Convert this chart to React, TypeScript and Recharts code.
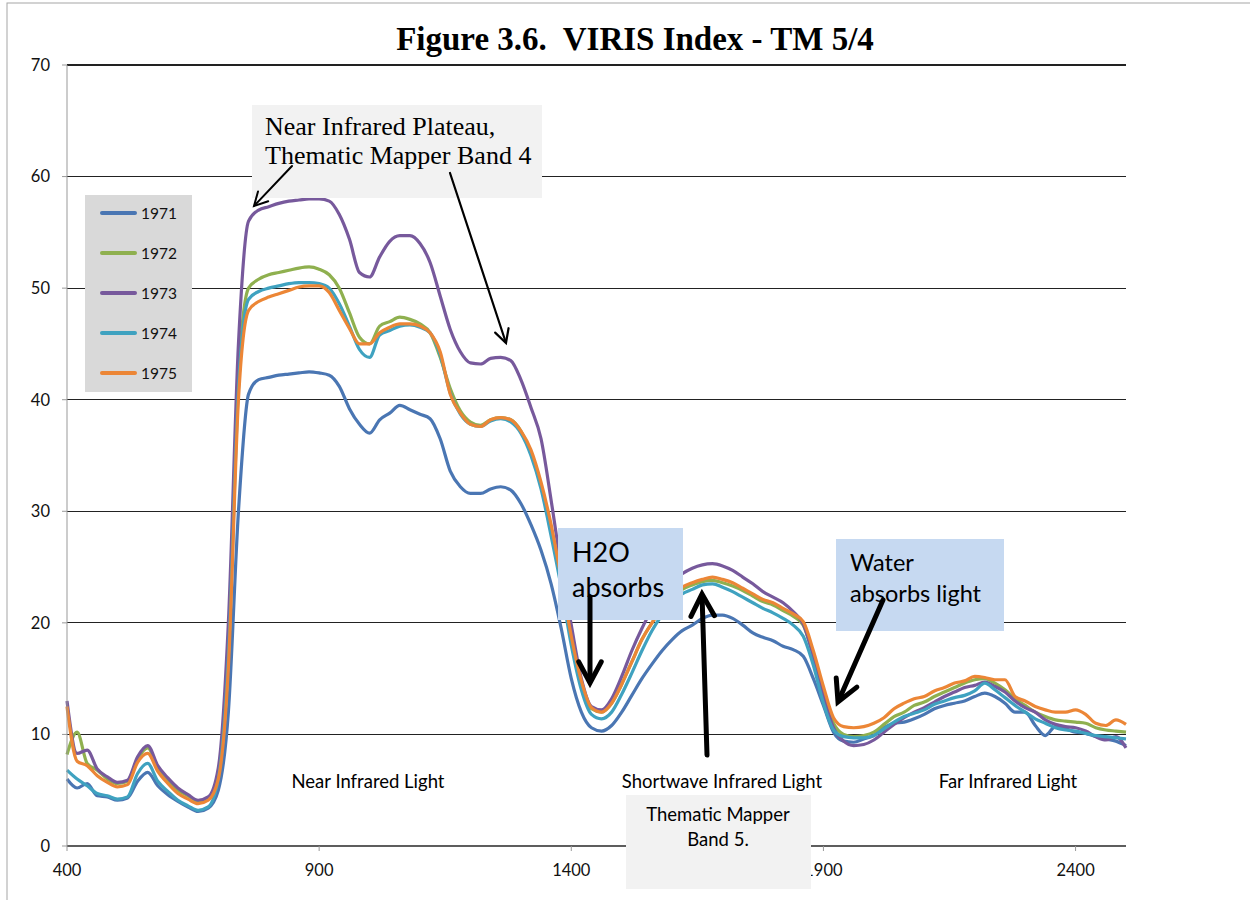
import React from "react";
import { LineChart, Line, XAxis, YAxis, CartesianGrid, Legend } from "recharts";

const WAVELENGTH = [
  400, 420, 440, 460, 480, 500, 520, 540, 560, 580,
  600, 620, 640, 660, 680, 700, 720, 740, 760, 780,
  800, 820, 840, 860, 880, 900, 920, 940, 960, 980,
  1000, 1020, 1040, 1060, 1080, 1100, 1120, 1140, 1160, 1180,
  1200, 1220, 1240, 1260, 1280, 1300, 1320, 1340, 1360, 1380,
  1400, 1420, 1440, 1460, 1480, 1500, 1520, 1540, 1560, 1580,
  1600, 1620, 1640, 1660, 1680, 1700, 1720, 1740, 1760, 1780,
  1800, 1820, 1840, 1860, 1880, 1900, 1920, 1940, 1960, 1980,
  2000, 2020, 2040, 2060, 2080, 2100, 2120, 2140, 2160, 2180,
  2200, 2220, 2240, 2260, 2280, 2300, 2320, 2340, 2360, 2380,
  2400, 2420, 2440, 2460, 2480, 2500,
];

const Y1971 = [
  6.0, 5.2, 5.6, 4.5, 4.4, 4.1, 4.3, 5.8, 6.6, 5.4,
  4.6, 4.0, 3.5, 3.1, 3.4, 5.0, 12.0, 30.0, 40.5, 41.8,
  42.0, 42.2, 42.3, 42.4, 42.5, 42.4, 42.2, 41.2, 39.2, 37.8,
  37.0, 38.2, 38.8, 39.5, 39.1, 38.7, 38.3, 36.5, 33.6, 32.2,
  31.6, 31.6, 32.0, 32.2, 31.9, 30.7, 28.8, 26.5, 23.5, 19.5,
  15.0, 12.0, 10.6, 10.3, 10.8, 12.0, 13.5, 15.0, 16.3, 17.5,
  18.5, 19.3, 19.8, 20.4, 20.7, 20.7, 20.4, 19.8, 19.1, 18.7,
  18.4, 17.9, 17.6, 17.0, 15.0, 12.6, 10.2, 9.4, 9.3, 9.6,
  9.9, 10.6, 11.0, 11.1, 11.4, 11.8, 12.3, 12.6, 12.8, 13.0,
  13.4, 13.7, 13.4, 12.8, 12.0, 12.0, 10.8, 9.9, 10.7, 10.5,
  10.2, 10.1, 9.8, 9.6, 9.4, 9.0,
];

const Y1972 = [
  8.2, 10.2, 7.4, 6.8, 6.0, 5.6, 5.8, 7.8, 8.8, 7.0,
  5.9, 5.0, 4.5, 4.0, 4.3, 6.5, 18.0, 42.0, 50.0, 50.8,
  51.2, 51.4, 51.6, 51.8, 51.9, 51.7, 51.2, 50.0, 47.8, 45.6,
  45.0, 46.6, 47.0, 47.4, 47.2, 46.8, 46.0, 43.8, 41.0, 39.0,
  38.0, 37.7, 38.2, 38.4, 38.2, 37.2, 35.2, 32.3, 28.3, 23.6,
  18.5, 14.5, 12.3, 12.0, 12.8, 14.5, 16.5, 18.5, 20.0, 21.3,
  22.3, 23.0, 23.4, 23.7, 23.8, 23.6, 23.3, 22.9, 22.4, 21.9,
  21.6, 21.1, 20.6, 19.8, 17.0, 13.6, 11.0, 10.0, 9.8, 9.9,
  10.2, 10.9, 11.6, 12.0, 12.6, 12.9, 13.4, 13.8, 14.2, 14.6,
  14.9, 15.0, 14.6, 14.0, 13.2, 12.6, 12.0, 11.6, 11.3, 11.2,
  11.1, 11.0, 10.6, 10.4, 10.3, 10.2,
];

const Y1973 = [
  13.0, 8.3, 8.6, 6.9, 6.2, 5.7, 5.9, 8.0, 9.0, 7.2,
  6.1, 5.2, 4.6, 4.1, 4.4, 7.0, 20.0, 45.0, 56.0, 57.0,
  57.3, 57.6, 57.8, 57.9, 58.0, 58.0, 57.8, 56.6, 54.4, 51.4,
  51.0, 52.8, 54.2, 54.7, 54.7, 54.0, 52.3, 49.3, 46.3, 44.3,
  43.3, 43.2, 43.7, 43.8, 43.5, 41.8, 39.3, 36.5, 31.0, 25.0,
  19.8, 15.0, 12.5, 12.2, 13.2, 15.2, 17.5, 19.5, 21.2, 22.5,
  23.6, 24.4, 24.9, 25.2, 25.3, 25.1, 24.7, 24.1, 23.5, 22.8,
  22.3, 21.8, 21.0, 19.9, 17.0, 13.5, 10.6, 9.4, 9.0, 9.1,
  9.5, 10.2, 10.9, 11.5, 12.0, 12.4, 12.9, 13.4, 13.8, 14.2,
  14.4, 14.7, 14.3, 13.8, 13.0, 12.4, 12.0, 11.3, 10.9, 10.7,
  10.6, 10.3, 9.8, 9.5, 9.8, 8.8,
];

const Y1974 = [
  6.8, 6.0, 5.4, 4.7, 4.5, 4.2, 4.4, 6.5, 7.4, 5.8,
  4.9, 4.1, 3.6, 3.2, 3.5, 6.0, 17.0, 41.0, 49.0, 49.7,
  50.0, 50.2, 50.4, 50.5, 50.5, 50.4, 50.0, 48.6, 46.6, 44.5,
  43.8, 45.8, 46.2, 46.6, 46.7, 46.5, 46.0, 44.0, 40.6, 38.7,
  37.8, 37.6, 38.1, 38.3, 38.0, 37.0, 35.0, 32.0, 27.8, 23.2,
  18.0, 14.0, 11.8, 11.4, 12.0, 13.6, 15.5, 17.5, 19.3, 20.7,
  21.8, 22.6, 23.0, 23.4, 23.5, 23.2, 22.8, 22.3, 21.8, 21.3,
  20.9, 20.4, 19.8, 18.8, 16.2, 12.8, 10.4, 9.8, 9.7, 9.7,
  9.9, 10.5, 11.1, 11.6, 11.9, 12.2, 12.7, 13.0, 13.3, 13.5,
  13.9, 14.6, 14.0, 13.3, 12.6, 12.0, 11.4, 11.0, 10.6, 10.4,
  10.3, 10.1, 9.9, 9.8, 9.7, 9.6,
];

const Y1975 = [
  12.5, 7.6, 7.2, 6.3, 5.7, 5.3, 5.5, 7.5, 8.3, 6.7,
  5.6, 4.7, 4.2, 3.8, 4.1, 6.0, 16.0, 40.0, 48.0, 48.8,
  49.2, 49.5, 49.8, 50.1, 50.2, 50.2, 49.6, 48.0, 46.4, 45.0,
  45.0, 46.0, 46.5, 46.8, 46.8, 46.6, 46.0, 44.3, 40.5, 38.8,
  37.8, 37.6, 38.2, 38.4, 38.2, 37.2, 35.5, 32.6, 28.8, 24.0,
  18.8, 14.8, 12.4, 12.0, 12.8, 14.5, 16.5, 18.5, 20.0, 21.3,
  22.4, 23.2, 23.6, 23.9, 24.1, 23.9, 23.6, 23.1, 22.6, 22.1,
  21.8, 21.3, 20.8, 20.1, 17.5, 14.3, 11.5, 10.7, 10.6, 10.7,
  11.0, 11.5, 12.3, 12.8, 13.2, 13.4, 13.9, 14.2, 14.6, 14.8,
  15.2, 15.1, 14.9, 14.9, 13.4, 13.0, 12.5, 12.2, 12.0, 12.0,
  12.2, 11.8, 11.0, 10.8, 11.3, 10.9,
];

const YEARS = ["1971", "1972", "1973", "1974", "1975"];
const VALUES = [Y1971, Y1972, Y1973, Y1974, Y1975];
const COLORS = ["#4A76B3", "#8FB04F", "#77599C", "#3FA2C0", "#EC8636"];

const X_TICKS = [400, 900, 1400, 1900, 2400];
const Y_TICKS = [0, 10, 20, 30, 40, 50, 60, 70];

const data = WAVELENGTH.map((w, i) => {
  const row: Record<string, number> = { w };
  YEARS.forEach((y, k) => { row[y] = VALUES[k][i]; });
  return row;
});

const SANS = "Lato, 'Open Sans', sans-serif";
const SERIF = "'Liberation Serif', 'DejaVu Serif', serif";

function LegendBox({ payload }: any) {
  return (
    <div style={{ width: 107, height: 197, background: "#d9d9d9", position: "relative" }}>
      {(payload || []).map((p: any, i: number) => (
        <div key={p.value} style={{ position: "absolute", left: 15, top: 18 + i * 40 - 10, height: 20, display: "flex", alignItems: "center" }}>
          <span style={{ display: "inline-block", width: 37, height: 4, borderRadius: 2, background: p.color }} />
          <span style={{ marginLeft: 4, fontFamily: SANS, fontSize: 15.5, color: "#111" }}>{p.value}</span>
        </div>
      ))}
    </div>
  );
}

// V-shaped arrow head, like the Office drawing arrows
function Arrow({ x1, y1, x2, y2, w, head }: { x1: number; y1: number; x2: number; y2: number; w: number; head: number }) {
  const len = Math.hypot(x2 - x1, y2 - y1);
  const ux = (x2 - x1) / len, uy = (y2 - y1) / len;
  const a = (28 * Math.PI) / 180;
  const arm = (s: number) => {
    const c = Math.cos(s * a), sn = Math.sin(s * a);
    const rx = ux * c - uy * sn, ry = ux * sn + uy * c;
    return `${x2 - rx * head},${y2 - ry * head}`;
  };
  return (
    <g stroke="#000" strokeWidth={w} fill="none" strokeLinecap="round" strokeLinejoin="miter">
      <line x1={x1} y1={y1} x2={x2 - ux * w * 0.6} y2={y2 - uy * w * 0.6} />
      <polyline points={`${arm(1)} ${x2},${y2} ${arm(-1)}`} />
    </g>
  );
}

function Overlay() {
  return (
    <svg width={1250} height={900} style={{ position: "absolute", left: 0, top: 0, pointerEvents: "none" }}>
      <rect x={7} y={3} width={1260} height={920} fill="none" stroke="#a6a6a6" />
      <text x={635} y={50} textAnchor="middle" fontFamily={SERIF} fontWeight="bold" fontSize={33} style={{ whiteSpace: "pre" }}>
        Figure 3.6.  VIRIS Index - TM 5/4
      </text>

      {/* NIR plateau callout */}
      <rect x={252} y={105} width={290} height={93} fill="#f2f2f2" />
      <text fontFamily={SERIF} fontSize={26} fill="#000">
        <tspan x={265} y={135}>Near Infrared Plateau,</tspan>
        <tspan x={265} y={164}>Thematic Mapper Band 4</tspan>
      </text>
      <Arrow x1={292} y1={166} x2={254} y2={206} w={2} head={15} />
      <Arrow x1={450} y1={173} x2={506} y2={343} w={2.2} head={15} />

      {/* H2O callout */}
      <rect x={558} y={528} width={125} height={92} fill="#c6d9f1" />
      <text fontFamily={SANS} fontSize={27} fill="#000">
        <tspan x={572} y={562}>H2O</tspan>
        <tspan x={572} y={597}>absorbs</tspan>
      </text>
      <Arrow x1={590} y1={597} x2={590} y2={683} w={5} head={24} />

      {/* Water callout */}
      <rect x={836} y={539} width={168} height={92} fill="#c6d9f1" />
      <text fontFamily={SANS} fontSize={23.5} fill="#000">
        <tspan x={850} y={571}>Water</tspan>
        <tspan x={850} y={602}>absorbs light</tspan>
      </text>
      <Arrow x1={883} y1={600} x2={838} y2={702} w={5} head={24} />

      <Arrow x1={707} y1={755} x2={702} y2={594} w={5} head={25} />

      {/* region labels */}
      <g fontFamily={SANS} fontSize={18.5} fill="#000" textAnchor="middle">
        <text x={368} y={788}>Near Infrared Light</text>
        <text x={722} y={788}>Shortwave Infrared Light</text>
        <text x={1008} y={788}>Far Infrared Light</text>
      </g>

      <rect x={626} y={795} width={185} height={94} fill="#f2f2f2" />
      <g fontFamily={SANS} fontSize={18.5} fill="#000" textAnchor="middle">
        <text x={718} y={821}>Thematic Mapper</text>
        <text x={718} y={846}>Band 5.</text>
      </g>
    </svg>
  );
}

export default function App() {
  return (
    <div style={{ position: "absolute", left: 0, top: 0, width: 1250, height: 900, background: "#fff", fontFamily: SANS }}>
      <LineChart width={1250} height={900} data={data} margin={{ top: 65, right: 124, bottom: 24, left: 7 }}>
        <CartesianGrid vertical={false} stroke="#222" strokeWidth={1.2} shapeRendering="crispEdges" />
        <XAxis
          dataKey="w" type="number" domain={[400, 2500]} ticks={X_TICKS} height={30}
          stroke="#999" tickSize={5} tickMargin={13}
          tick={{ fill: "#111", fontSize: 16.5, fontFamily: SANS }}
        />
        <YAxis
          type="number" domain={[0, 70]} ticks={Y_TICKS} width={60}
          stroke="#999" tickSize={5} tickMargin={12}
          tick={{ fill: "#111", fontSize: 16.5, fontFamily: SANS }}
        />
        <Legend
          layout="vertical" align="center" verticalAlign="middle"
          content={<LegendBox />}
          wrapperStyle={{ position: "absolute", left: 85, top: 195, width: 107, height: 197 }}
        />
        {YEARS.map((y, k) => (
          <Line
            key={y} dataKey={y} name={y} type="monotone" stroke={COLORS[k]} strokeWidth={3.2}
            dot={false} activeDot={false} isAnimationActive={false}
          />
        ))}
      </LineChart>
      <Overlay />
    </div>
  );
}
